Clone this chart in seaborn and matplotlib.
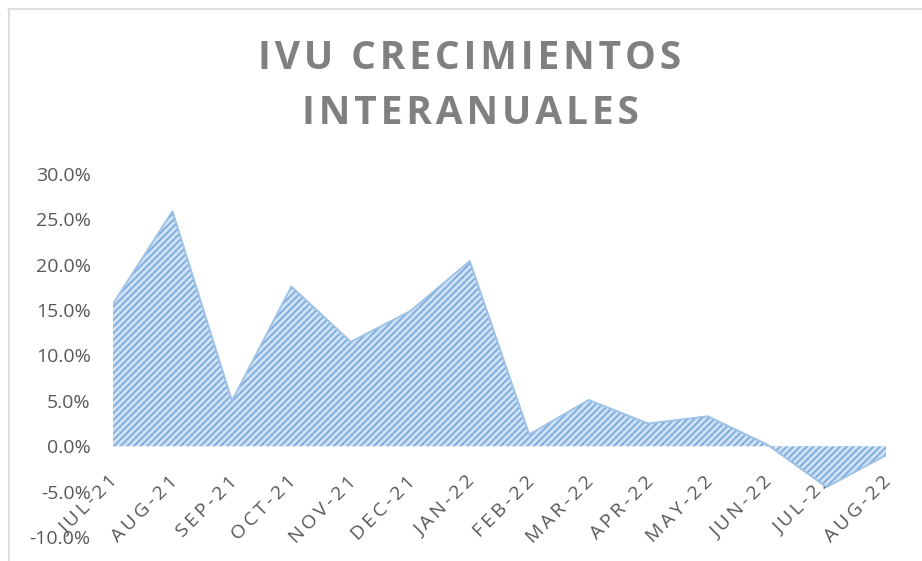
import matplotlib
matplotlib.use("Agg")
import matplotlib.pyplot as plt
import matplotlib.transforms as mtransforms
import seaborn as sns
import pandas as pd
from matplotlib.lines import Line2D

months = ["JUL-21", "AUG-21", "SEP-21", "OCT-21", "NOV-21", "DEC-21", "JAN-22",
          "FEB-22", "MAR-22", "APR-22", "MAY-22", "JUN-22", "JUL-22", "AUG-22"]
growth = [15.7, 25.9, 5.0, 17.6, 11.5, 14.9, 20.4,
          1.3, 5.1, 2.5, 3.3, 0.2, -4.5, -1.0]
y_ticks = [-10, -5, 0, 5, 10, 15, 20, 25, 30]
title_lines = ["IVU CRECIMIENTOS", "INTERANUALES"]

sns.set_theme(style="white")
plt.rcParams["font.family"] = ["Open Sans", "DejaVu Sans"]
plt.rcParams["hatch.color"] = "#7EAADC"
plt.rcParams["hatch.linewidth"] = 1.3

HAIR = "\u200a"
THIN = "\u2009"

df = pd.DataFrame({"idx": range(len(months)), "month": months, "growth": growth})

fig = plt.figure(figsize=(9.22, 5.61), dpi=100)
ax = fig.add_axes([113 / 922, 24 / 561, (886 - 113) / 922, (537 - 174) / 561])

ax.fill_between(df["idx"], df["growth"], 0, facecolor="#CFE2F5",
                edgecolor="#7EAADC", hatch="/////", linewidth=0)
sns.lineplot(data=df, x="idx", y="growth", ax=ax, color="#9DC3E6", linewidth=1.4)

for s in ["top", "right", "left"]:
    ax.spines[s].set_visible(False)
ax.spines["bottom"].set_position(("data", 0))
ax.spines["bottom"].set_visible(False)

ax.set_xlim(0, len(months) - 1)
ax.set_ylim(-10, 30)
ax.set_yticks(y_ticks)
ax.set_yticklabels([f"{v:.1f}%" for v in y_ticks], color="#595959", fontsize=14)
ax.set_xticks(range(len(months)))
ax.set_xticklabels([THIN.join(m) for m in months], rotation=45, ha="right",
                   rotation_mode="anchor", color="#595959", fontsize=14)
ax.tick_params(axis="y", length=0, pad=16)
ax.tick_params(axis="x", length=0, pad=19)
ax.set_xlabel("")
ax.set_ylabel("")
ax.grid(False)

shift = mtransforms.ScaledTranslation(-4 / 100, 0, fig.dpi_scale_trans)
for lab in ax.get_xticklabels():
    lab.set_transform(lab.get_transform() + shift)

spaced = "\n".join(HAIR.join(line) for line in title_lines)
fig.text(470 / 922, 1 - 86 / 561, spaced, ha="center", va="center",
         fontsize=28, fontweight="bold", color="#808080", linespacing=1.55)

# chart border (partially cropped)
fig.add_artist(Line2D([8 / 922, 1], [1 - 9 / 561, 1 - 9 / 561], color="#D9D9D9", lw=1.2, transform=fig.transFigure))
fig.add_artist(Line2D([9 / 922, 9 / 922], [0, 1 - 9 / 561], color="#D9D9D9", lw=1.2, transform=fig.transFigure))

fig.savefig("out.png", dpi=100, facecolor="white")
